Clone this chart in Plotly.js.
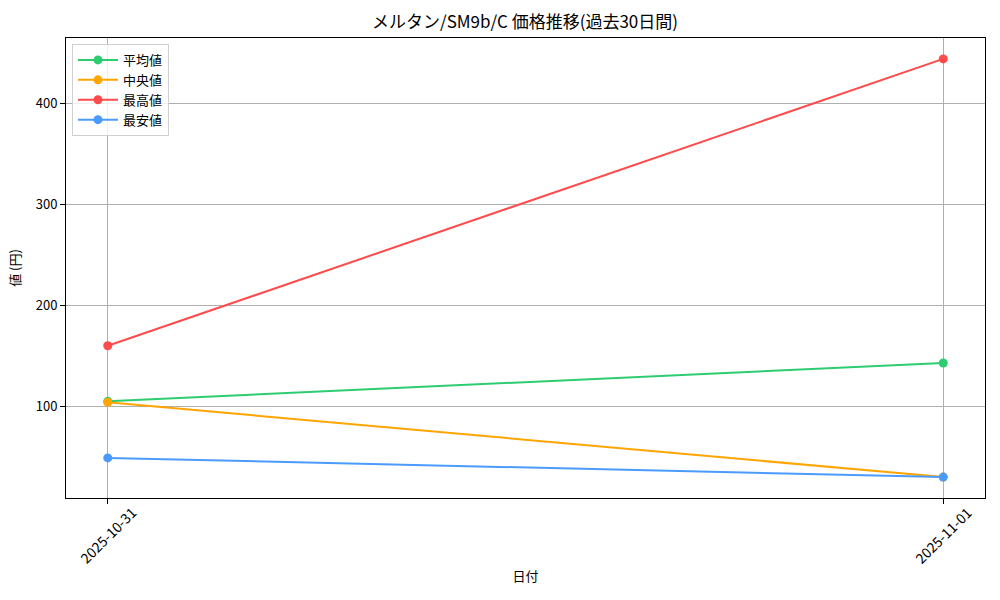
<!DOCTYPE html>
<html>
<head>
<meta charset="utf-8">
<script src="https://cdn.plot.ly/plotly-3.0.1.min.js"></script>
<style>
  html, body {margin: 0; padding: 0; background: #fff;}
  #chart {width: 1000px; height: 600px;}
</style>
</head>
<body>
<div id="chart"></div>
<script>
/////Data/////
const DATES = ['2025-10-31', '2025-11-01'];
const AVG_VALUES = [105, 143];
const MEDIAN_VALUES = [104, 30];
const MAX_VALUES = [160, 444];
const MIN_VALUES = [49, 30];
const SERIES_NAMES = ['平均値', '中央値', '最高値', '最安値'];
const SERIES_COLORS = ['#2ecc71', '#ffa500', '#ff4b4b', '#4b9bff'];
const Y_TICKS = [100, 200, 300, 400];

const FONT = '"Noto Sans CJK JP", "DejaVu Sans", sans-serif';

function makeTrace(values, i) {
  return {
    x: DATES,
    y: values,
    type: 'scatter',
    mode: 'lines+markers',
    name: SERIES_NAMES[i],
    line: {color: SERIES_COLORS[i], width: 2},
    marker: {color: SERIES_COLORS[i], size: 9}
  };
}

let traces = [AVG_VALUES, MEDIAN_VALUES, MAX_VALUES, MIN_VALUES].map(makeTrace);

// matplotlib style 5% padding
let yAll = [].concat(AVG_VALUES, MEDIAN_VALUES, MAX_VALUES, MIN_VALUES);
let yMin = Math.min(...yAll), yMax = Math.max(...yAll);
let yPad = (yMax - yMin) * 0.05;
let xPad = (DATES.length - 1) * 0.05;

// rotated date labels centred under the ticks (matplotlib style)
let dateLabels = DATES.map((d) => {
  return {
    x: d, xref: 'x',
    y: 0, yref: 'paper',
    yshift: -37,
    text: d,
    textangle: -45,
    showarrow: false,
    xanchor: 'center', yanchor: 'middle',
    font: {family: FONT, size: 14, color: '#000'}
  };
});

const LAYOUT = {
  width: 1000,
  height: 600,
  paper_bgcolor: '#fff',
  plot_bgcolor: '#fff',
  font: {family: FONT, size: 13, color: '#000'},
  margin: {l: 66, r: 15, t: 38, b: 102},
  title: {
    text: 'メルタン/SM9b/C 価格推移(過去30日間)',
    font: {family: FONT, size: 17, color: '#000'},
    x: 0.525, xanchor: 'center', y: 0.963, yanchor: 'middle'
  },
  xaxis: {
    type: 'category',
    range: [-xPad, DATES.length - 1 + xPad],
    tickvals: DATES,
    showticklabels: false,
    ticks: 'outside', ticklen: 5, tickcolor: '#000', tickwidth: 1,
    showline: true, linecolor: '#000', linewidth: 1, mirror: true,
    showgrid: true, gridcolor: '#b0b0b0', gridwidth: 1,
    zeroline: false,
    title: {text: '日付', font: {family: FONT, size: 13}, standoff: 68}
  },
  yaxis: {
    range: [yMin - yPad, yMax + yPad],
    tickvals: Y_TICKS,
    ticks: 'outside', ticklen: 5, tickcolor: '#000', tickwidth: 1,
    showline: true, linecolor: '#000', linewidth: 1, mirror: true,
    showgrid: true, gridcolor: '#b0b0b0', gridwidth: 1,
    zeroline: false,
    tickfont: {family: FONT, size: 13},
    title: {text: '値 (円)', font: {family: FONT, size: 13}, standoff: 12}
  },
  annotations: dateLabels,
  showlegend: true,
  legend: {
    x: 0.0065, y: 0.987, xanchor: 'left', yanchor: 'top',
    bgcolor: 'rgba(255,255,255,0.8)',
    bordercolor: '#d0d0d0', borderwidth: 1,
    font: {family: FONT, size: 13},
    itemwidth: 40,
    tracegroupgap: 0
  }
};

Plotly.newPlot('chart', traces, LAYOUT, {staticPlot: true});
</script>
</body>
</html>
